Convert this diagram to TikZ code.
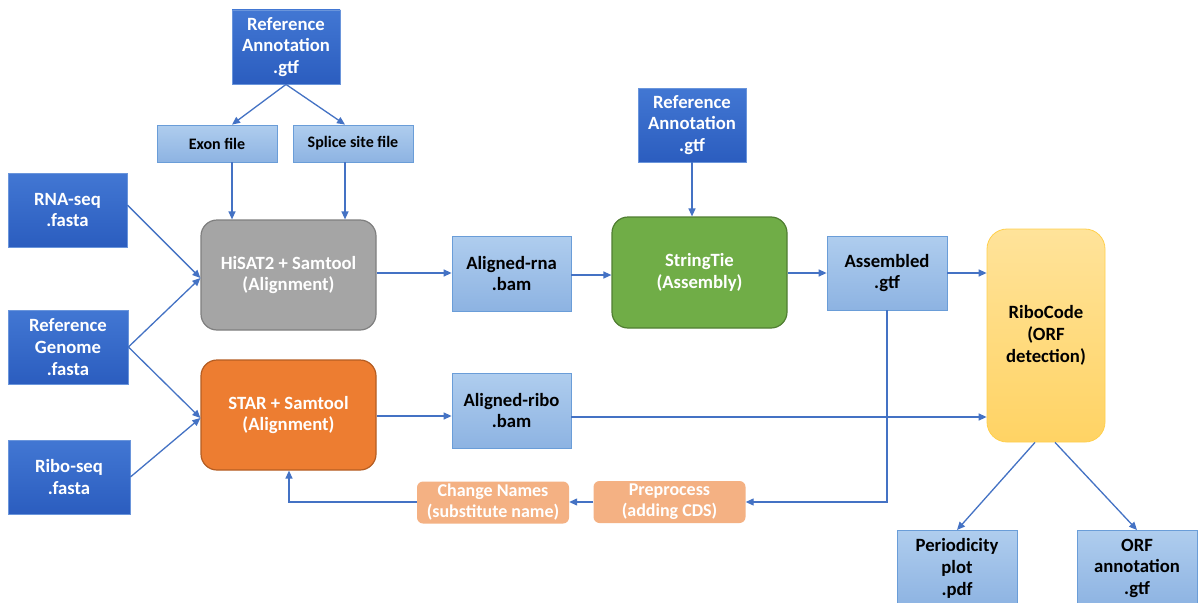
\documentclass[tikz,border=0pt]{standalone}
\usepackage{fontspec}
\setmainfont{Carlito}
\usetikzlibrary{arrows.meta}
\definecolor{arr}{HTML}{4472C4}
\definecolor{dbtop}{HTML}{4277D3}
\definecolor{dbbot}{HTML}{2B5DBF}
\definecolor{dbline}{HTML}{6A95DB}
\definecolor{lbtop}{HTML}{AFCDEE}
\definecolor{lbbot}{HTML}{8DB3E2}
\definecolor{lbline}{HTML}{6A9DD8}
\definecolor{grayfill}{HTML}{A5A5A5}
\definecolor{grayline}{HTML}{7F7F7F}
\definecolor{orfill}{HTML}{ED7D31}
\definecolor{orline}{HTML}{B55D22}
\definecolor{grfill}{HTML}{70AD47}
\definecolor{grline}{HTML}{507E32}
\definecolor{yltop}{HTML}{FFE39A}
\definecolor{ylbot}{HTML}{FFD364}
\definecolor{ylline}{HTML}{FFD04D}
\definecolor{lofill}{HTML}{F4B183}
\tikzset{
  x=1pt, y=-1pt,
  base/.style={align=center, inner sep=0pt, font=\bfseries\fontsize{18.7}{21.7}\selectfont},
  darkbox/.style={base, text=white, top color=dbtop, bottom color=dbbot, draw=dbline, line width=0.8pt},
  lightbox/.style={base, text=black, top color=lbtop, bottom color=lbbot, draw=lbline, line width=0.8pt},
  smallbox/.style={lightbox, font=\bfseries\fontsize{16}{18}\selectfont},
  toolbox/.style={base, text=white, rounded corners=16pt, line width=1.2pt, minimum width=175pt, minimum height=110pt},
  lobox/.style={base, text=white, fill=lofill, rounded corners=6pt, font=\bfseries\fontsize{18}{21}\selectfont, minimum height=42pt, minimum width=152pt},
  conn/.style={draw=arr, line width=1.3pt, -{Triangle[length=8pt,width=7pt]}},
}
\begin{document}
\begin{tikzpicture}
\useasboundingbox (0,0) rectangle (1201,602);
\fill[white] (0,0) rectangle (1201,602);

% top inputs
\node[darkbox, minimum width=108pt, minimum height=74pt] (ra1) at (286,47) {Reference\\Annotation\\.gtf};
\node[smallbox, minimum width=120pt, minimum height=37pt] (exon) at (217,143.5) {Exon file};
\node[smallbox, minimum width=120pt, minimum height=37pt] (splice) at (353,143.5) {Splice site file};

\node[darkbox, minimum width=119pt, minimum height=74pt] (rna) at (67.5,210) {RNA-seq\\.fasta};
\node[darkbox, minimum width=120pt, minimum height=74pt] (gen) at (68,347) {Reference\\Genome\\.fasta};
\node[darkbox, minimum width=122pt, minimum height=74pt] (ribo) at (69,477) {Ribo-seq\\.fasta};

\node[toolbox, fill=grayfill, draw=grayline] (hisat) at (288.5,275) {HiSAT2 + Samtool\\(Alignment)};
\node[toolbox, fill=orfill, draw=orline] (star) at (288.5,415) {STAR + Samtool\\(Alignment)};

\node[lightbox, minimum width=119pt, minimum height=75pt] (arna) at (511.5,273.5) {Aligned-rna\\.bam};
\node[lightbox, minimum width=119pt, minimum height=75pt] (aribo) at (511.5,410.5) {Aligned-ribo\\.bam};

\node[darkbox, minimum width=108pt, minimum height=74pt] (ra2) at (692,125) {Reference\\Annotation\\.gtf};
\node[toolbox, fill=grfill, draw=grline, minimum height=111pt] (string) at (699.5,272.5) {StringTie\\(Assembly)};

\node[lightbox, minimum width=120pt, minimum height=74pt] (asm) at (887,273) {Assembled\\.gtf};

\node[base, text=black, top color=yltop, bottom color=ylbot, draw=ylline, line width=0.8pt, rounded corners=20pt, minimum width=118pt, minimum height=213pt] (ribocode) at (1046,335.5) {RiboCode\\(ORF\\detection)};

\node[lobox] (pre) at (669.5,502) {Preprocess\\(adding CDS)};
\node[lobox] (chg) at (493,502.5) {Change Names\\(substitute name)};

\node[lightbox, minimum width=120pt, minimum height=76pt, anchor=north] (per) at (957,530) {Periodicity\\plot\\.pdf};
\node[lightbox, minimum width=120pt, minimum height=76pt, anchor=north] (orf) at (1137,530) {ORF\\annotation\\.gtf};

% connectors
\draw[conn] (ra1.south) -- (exon.north -| 232,0);
\draw[conn] (ra1.south) -- (splice.north -| 345,0);
\draw[conn] (exon.south -| 232,0) -- (hisat.north -| 232,0);
\draw[conn] (splice.south -| 345,0) -- (hisat.north -| 345,0);

\coordinate (hin) at (hisat.west |- 0,278);
\coordinate (sin) at (star.west |- 0,418);
\draw[conn] (rna.east |- 0,205) -- (hin);
\draw[conn] (gen.east) -- (hin);
\draw[conn] (gen.east) -- (sin);
\draw[conn] (ribo.east) -- (sin);

\draw[conn] (hisat.east |- 0,273) -- (arna.west |- 0,273);
\draw[conn] (arna.east |- 0,275) -- (string.west |- 0,275);
\draw[conn] (ra2.south) -- (string.north -| ra2.south);
\draw[conn] (string.east |- 0,273) -- (asm.west |- 0,273);
\draw[conn] (asm.east |- 0,273) -- (ribocode.west |- 0,273);

\draw[conn] (star.east |- 0,416) -- (aribo.west |- 0,416);
\draw[conn] (aribo.east |- 0,417) -- (ribocode.west |- 0,417);

\coordinate (turn1) at (asm.south |- 0,502);
\draw[conn] (asm.south) -- (turn1) -- (pre.east |- 0,502);
\draw[conn] (pre.west |- 0,502) -- (chg.east |- 0,502);
\coordinate (turn2) at (289,502);
\draw[conn] (chg.west |- 0,502) -- (turn2) -- (star.south -| 289,0);

\draw[conn] (ribocode.south -| 1035,0) -- (per.north);
\draw[conn] (ribocode.south -| 1055,0) -- (orf.north);
\end{tikzpicture}
\end{document}
